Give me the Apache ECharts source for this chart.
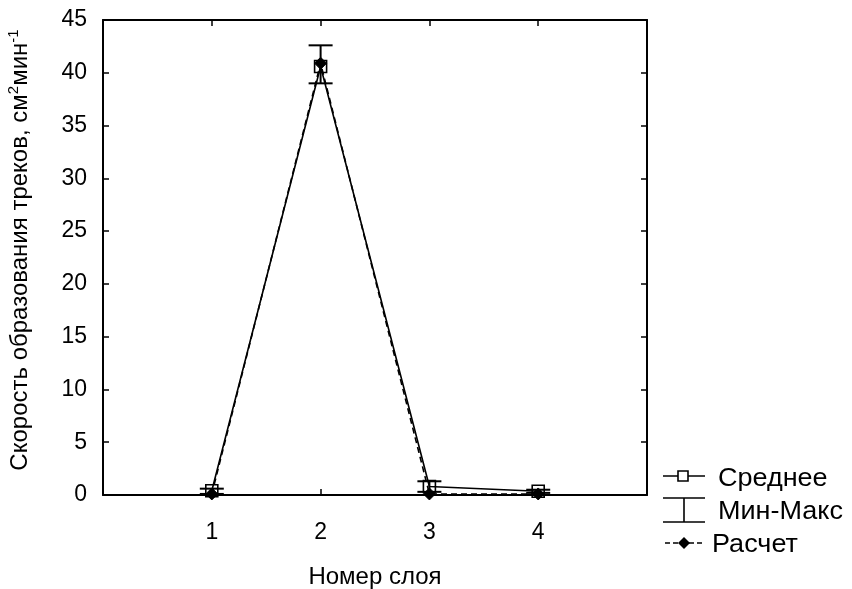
<!DOCTYPE html>
<html>
<head>
<meta charset="utf-8">
<script src="https://cdn.jsdelivr.net/npm/echarts@6/dist/echarts.min.js"></script>
<style>
  html, body { margin: 0; padding: 0; background: #fff; }
  #chart { width: 852px; height: 589px; }
</style>
</head>
<body>
<div id="chart"></div>
<script>
// Layer numbers
var layers = [1, 2, 3, 4];
// Mean measured rate per layer
var meanValues = [0.4, 40.6, 0.8, 0.35];
// Min / max of measured rate per layer
var minValues = [0.1, 39.0, 0.3, 0.2];
var maxValues = [0.6, 42.6, 1.3, 0.5];
// Calculated rate per layer
var calcValues = [0.1, 40.9, 0.1, 0.1];
// Axis tick labels
var xTickLabels = ['1', '2', '3', '4'];

var FONT = 'Liberation Sans, Arial, sans-serif';

var meanData = layers.map(function (x, i) { return [x, meanValues[i]]; });
var calcData = layers.map(function (x, i) { return [x, calcValues[i]]; });
var rangeData = layers.map(function (x, i) { return [x, minValues[i], maxValues[i]]; });

var chart = echarts.init(document.getElementById('chart'), null, { renderer: 'canvas' });

var axisLine = { show: true, onZero: false, lineStyle: { color: '#000', width: 2 } };
var tick = { show: true, inside: true, length: 6, lineStyle: { color: '#000', width: 1.5 } };

chart.setOption({
  animation: false,
  backgroundColor: '#fff',
  grid: { left: 103, top: 20, right: 205, bottom: 94 },
  xAxis: [{
    type: 'value', min: 0, max: 5, interval: 1, position: 'bottom',
    axisLine: axisLine, axisTick: tick, splitLine: { show: false },
    axisLabel: {
      color: '#000', fontFamily: FONT, fontSize: 23, margin: 26,
      formatter: function (v) { var i = layers.indexOf(v); return i >= 0 ? xTickLabels[i] : ''; }
    }
  }, {
    type: 'value', min: 0, max: 5, interval: 1, position: 'top',
    axisLine: axisLine, axisTick: tick, splitLine: { show: false }, axisLabel: { show: false }
  }],
  yAxis: [{
    type: 'value', min: 0, max: 45, interval: 5, position: 'left',
    axisLine: axisLine, axisTick: tick, splitLine: { show: false },
    axisLabel: { color: '#000', fontFamily: FONT, fontSize: 23, margin: 16 }
  }, {
    type: 'value', min: 0, max: 45, interval: 5, position: 'right',
    axisLine: axisLine, axisTick: tick, splitLine: { show: false }, axisLabel: { show: false }
  }],
  series: [{
    name: 'Расчет', type: 'line', data: calcData,
    lineStyle: { color: '#000', width: 1.6, type: [6, 4] },
    symbol: 'diamond', symbolSize: 12,
    itemStyle: { color: '#000', borderColor: '#000' }, z: 3
  }, {
    name: 'Мин-Макс', type: 'custom', data: rangeData,
    renderItem: function (params, api) {
      var x = api.value(0);
      var lo = api.coord([x, api.value(1)]);
      var hi = api.coord([x, api.value(2)]);
      var half = 12;
      var st = { stroke: '#000', lineWidth: 2 };
      return {
        type: 'group', children: [
          { type: 'line', shape: { x1: lo[0], y1: lo[1], x2: hi[0], y2: hi[1] }, style: st },
          { type: 'line', shape: { x1: lo[0] - half, y1: lo[1], x2: lo[0] + half, y2: lo[1] }, style: st },
          { type: 'line', shape: { x1: hi[0] - half, y1: hi[1], x2: hi[0] + half, y2: hi[1] }, style: st }
        ]
      };
    }, z: 4
  }, {
    name: 'Среднее', type: 'line', data: meanData,
    lineStyle: { color: '#000', width: 1.6 },
    symbol: 'rect', symbolSize: 12,
    itemStyle: { color: 'rgba(255,255,255,0)', borderColor: '#000', borderWidth: 1.6 }, z: 5
  }],
  graphic: [
    // y-axis title with superscripts
    {
      type: 'text', x: 20, y: 250, rotation: Math.PI / 2,
      style: {
        text: '{n|Скорость образования треков, см}{s|2}{n|мин}{s|-1}',
        align: 'center', verticalAlign: 'middle',
        rich: {
          n: { fontFamily: FONT, fontSize: 24, fill: '#000' },
          s: { fontFamily: FONT, fontSize: 15, fill: '#000', verticalAlign: 'top', padding: [0, 0, 12, 0] }
        }
      }
    },
    // x-axis title
    {
      type: 'text', x: 375, y: 577,
      style: { text: 'Номер слоя', font: '24px ' + FONT, fill: '#000', align: 'center', verticalAlign: 'middle' }
    },
    // legend: mean
    { type: 'line', shape: { x1: 663, y1: 476, x2: 705, y2: 476 }, style: { stroke: '#000', lineWidth: 1.6 } },
    { type: 'rect', shape: { x: 678, y: 471, width: 10, height: 10 }, style: { fill: '#fff', stroke: '#000', lineWidth: 1.6 } },
    { type: 'text', x: 718, y: 479, scaleX: 1.08, style: { text: 'Среднее', font: '25px ' + FONT, fill: '#000', verticalAlign: 'middle' } },
    // legend: min-max
    { type: 'line', shape: { x1: 663, y1: 498, x2: 705, y2: 498 }, style: { stroke: '#000', lineWidth: 1.6 } },
    { type: 'line', shape: { x1: 684, y1: 498, x2: 684, y2: 522 }, style: { stroke: '#000', lineWidth: 1.6 } },
    { type: 'line', shape: { x1: 663, y1: 522, x2: 705, y2: 522 }, style: { stroke: '#000', lineWidth: 1.6 } },
    { type: 'text', x: 718, y: 512, scaleX: 1.08, style: { text: 'Мин-Макс', font: '25px ' + FONT, fill: '#000', verticalAlign: 'middle' } },
    // legend: calculated
    { type: 'line', shape: { x1: 665, y1: 543, x2: 705, y2: 543 }, style: { stroke: '#000', lineWidth: 1.6, lineDash: [5, 3] } },
    { type: 'polygon', shape: { points: [[684, 537], [690, 543], [684, 549], [678, 543]] }, style: { fill: '#000' } },
    { type: 'text', x: 712, y: 545, scaleX: 1.08, style: { text: 'Расчет', font: '25px ' + FONT, fill: '#000', verticalAlign: 'middle' } }
  ]
});
</script>
</body>
</html>
